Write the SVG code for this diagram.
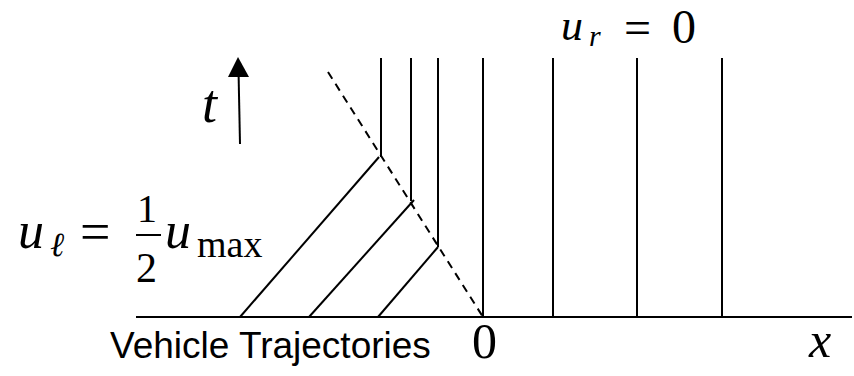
<svg xmlns="http://www.w3.org/2000/svg" width="854" height="376" viewBox="0 0 854 376">
<style>
.ln{stroke:#000;stroke-width:2;fill:none}
.dash{stroke:#000;stroke-width:2;fill:none;stroke-dasharray:8,6}
.m{font-family:"Liberation Serif","DejaVu Serif",serif;fill:#000}
.mi{font-family:"Liberation Serif","DejaVu Serif",serif;font-style:italic;fill:#000}
.lab{font-family:"Liberation Sans",Arial,sans-serif;font-size:37px;fill:#000}
</style>
<g id="axis">
<line class="ln" x1="136" y1="317" x2="852" y2="317"/>
</g>
<g id="connectors">
<line class="dash" x1="328" y1="72" x2="483" y2="317"/>
<line class="ln" x1="381" y1="58" x2="381" y2="157"/>
<line class="ln" x1="411" y1="58" x2="411" y2="201"/>
<line class="ln" x1="438" y1="58" x2="438" y2="247"/>
<line class="ln" x1="483" y1="58" x2="483" y2="317"/>
<line class="ln" x1="553" y1="58" x2="553" y2="317"/>
<line class="ln" x1="637" y1="58" x2="637" y2="317"/>
<line class="ln" x1="722" y1="58" x2="722" y2="317"/>
<line class="ln" x1="240" y1="317" x2="379" y2="157"/>
<line class="ln" x1="309" y1="317" x2="414" y2="200"/>
<line class="ln" x1="378" y1="317" x2="438" y2="247"/>
</g>
<g id="time-arrow">
<line x1="240" y1="144" x2="238.5" y2="70" stroke="#000" stroke-width="2"/>
<path d="M238,57 L228,77 L249,77 Z" fill="#000"/>
<text class="mi" x="202" y="122" font-size="54">t</text>
</g>
<g id="label-ur">
<text class="mi" x="561" y="40" font-size="44">u</text>
<text class="mi" x="589" y="46" font-size="30">r</text>
<text class="m" x="624" y="44" font-size="48">=</text>
<text class="m" x="672" y="43" font-size="48">0</text>
</g>
<g id="label-ul">
<text class="mi" x="18" y="248" font-size="52">u</text>
<text class="mi" x="50" y="256" font-size="34">ℓ</text>
<text class="m" x="80" y="250" font-size="54">=</text>
<text class="m" x="137" y="222" font-size="40">1</text>
<line x1="136" y1="235" x2="161" y2="235" stroke="#000" stroke-width="2"/>
<text class="m" x="136" y="282" font-size="42">2</text>
<text class="mi" x="165" y="248" font-size="52">u</text>
<text class="m" x="197" y="257" font-size="38">max</text>
</g>
<g id="label-0">
<text class="m" x="472" y="358" font-size="50">0</text>
</g>
<g id="label-x">
<text class="mi" x="809" y="357" font-size="50">x</text>
</g>
<g id="label-vehicle">
<text class="lab" x="110" y="358">Vehicle Trajectories</text>
</g>
</svg>
